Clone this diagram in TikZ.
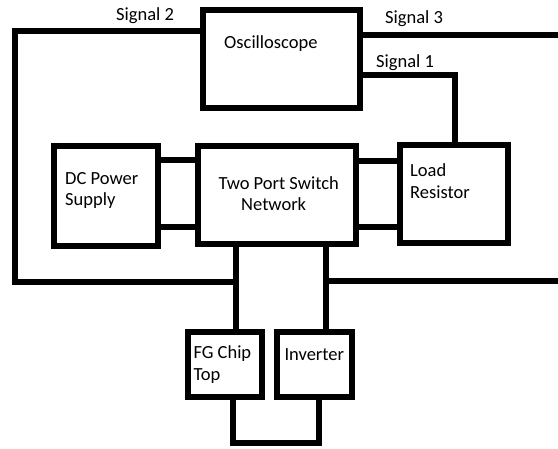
\documentclass[tikz,border=0pt]{standalone}
\usepackage{fontspec}
\setmainfont{Carlito}
\begin{document}
\begin{tikzpicture}[x=1pt,y=-1pt,
  blk/.style={draw=black,line width=6pt,inner sep=0pt,fill=white},
  wire/.style={draw=black,line width=6pt},
  lbl/.style={inner sep=0pt,anchor=base west,text=black,font=\fontsize{18.5}{22}\selectfont}]
\useasboundingbox (0,0) rectangle (558,449);
% boxes
\node[blk,minimum width=157pt,minimum height=97.7pt] (osc) at (281.5,59.15) {};
\node[blk,minimum width=104.1pt,minimum height=100pt] (dc) at (105.75,196.3) {};
\node[blk,minimum width=158pt,minimum height=97.4pt] (tp) at (277,195) {};
\node[blk,minimum width=108.3pt,minimum height=97.5pt] (load) at (453.65,194.25) {};
\node[blk,minimum width=74.2pt,minimum height=64.5pt] (fg) at (224.6,364.45) {};
\node[blk,minimum width=74.3pt,minimum height=64.5pt] (inv) at (314.35,364.45) {};
% junctions and free ends
\coordinate (tl) at (14.5,31.3);
\coordinate (bl) at (14.5,282.3);
\coordinate (j1) at (236.3,282.3);
\coordinate (j2) at (326.3,280.7);
\coordinate (e2) at (561,280.7);
\coordinate (e3) at (561,35.3);
\coordinate (s1) at (454.7,74.7);
\coordinate (u1) at (233,443);
\coordinate (u2) at (319,443);
% connectors
\draw[wire] (osc.west |- tl) -- (tl) -- (bl) -- (j1);
\draw[wire] (tp.south -| j1) -- (fg.north -| j1);
\draw[wire] (tp.south -| j2) -- (inv.north -| j2);
\draw[wire] (j2) -- (e2);
\draw[wire] (osc.east |- e3) -- (e3);
\draw[wire] (osc.east |- s1) -- (s1) -- (load.north -| s1);
\draw[wire] (dc.east |- 0,160) -- (tp.west |- 0,160);
\draw[wire] (dc.east |- 0,226.7) -- (tp.west |- 0,226.7);
\draw[wire] (tp.east |- 0,161.3) -- (load.west |- 0,161.3);
\draw[wire] (tp.east |- 0,227) -- (load.west |- 0,227);
\draw[wire] (fg.south -| u1) -- (u1) -- (u2) -- (inv.south -| u2);
% labels
\node[lbl] (sig2) at (116,20.7) {Signal 2};
\node[lbl] (sig3) at (385,23.3) {Signal 3};
\node[lbl] (sig1) at (376,67.7) {Signal 1};
\node[lbl] (osct) at (224,48.3) {Oscilloscope};
\node[lbl] (dct1) at (65,185) {DC Power};
\node[lbl] (dct2) at (65,206) {Supply};
\node[lbl] (tpt1) at (218.3,189.3) {Two Port Switch};
\node[lbl] (tpt2) at (241,211) {Network};
\node[lbl] (ldt1) at (410,176.7) {Load};
\node[lbl] (ldt2) at (410,199) {Resistor};
\node[lbl] (fgt1) at (193.3,359) {FG Chip};
\node[lbl] (fgt2) at (193.3,380.7) {Top};
\node[lbl] (invt) at (284.3,360.7) {Inverter};
\end{tikzpicture}
\end{document}
